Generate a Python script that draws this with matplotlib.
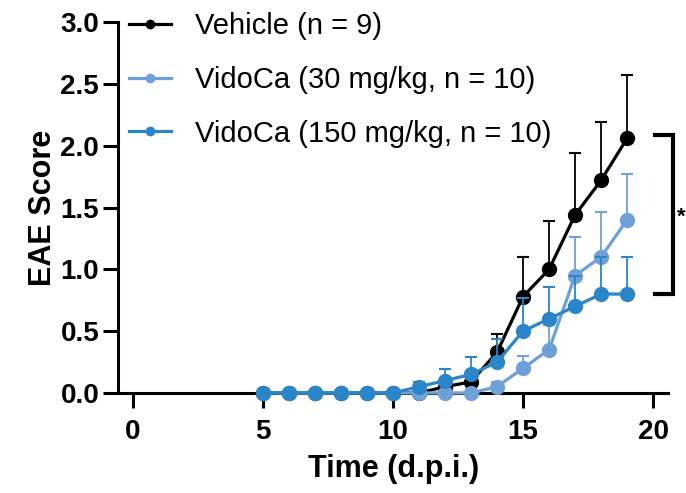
import numpy as np
import matplotlib
matplotlib.use("Agg")
import matplotlib.pyplot as plt

plt.rcParams['font.family'] = ['Liberation Sans', 'DejaVu Sans']

# days post immunisation
days = [5, 6, 7, 8, 9, 10, 11, 12, 13, 14, 15, 16, 17, 18, 19]

vehicle_mean = [0, 0, 0, 0, 0, 0, 0, 0.05, 0.09, 0.33, 0.78, 1.0, 1.44, 1.72, 2.06]
vehicle_err = [0, 0, 0, 0, 0, 0, 0, 0, 0, 0.15, 0.32, 0.39, 0.50, 0.47, 0.51]

vido30_mean = [0, 0, 0, 0, 0, 0, 0, 0, 0, 0.05, 0.2, 0.35, 0.95, 1.1, 1.4]
vido30_err = [0, 0, 0, 0, 0, 0, 0, 0, 0, 0.04, 0.1, 0.2, 0.31, 0.36, 0.37]

vido150_mean = [0, 0, 0, 0, 0, 0, 0.05, 0.1, 0.15, 0.25, 0.5, 0.6, 0.7, 0.8, 0.8]
vido150_err = [0, 0, 0, 0, 0, 0, 0.04, 0.09, 0.14, 0.19, 0.27, 0.26, 0.25, 0.3, 0.3]

labels = ['Vehicle (n = 9)', 'VidoCa (30 mg/kg, n = 10)', 'VidoCa (150 mg/kg, n = 10)']
colors = ['black', '#6fa0d8', '#2a86c9']

# significance bracket between vehicle and 150 mg/kg at the last day
bracket_y = [0.8, 2.09]
bracket_text = '*'

fig = plt.figure(figsize=(6.86, 4.93), dpi=100)
ax = fig.add_axes([0.172, 0.203, 0.802, 0.752])

series = [(vehicle_mean, vehicle_err), (vido30_mean, vido30_err), (vido150_mean, vido150_err)]
handles = []
for i, (mean, err) in enumerate(series):
    mean = np.array(mean)
    err = np.array(err)
    cont = ax.errorbar(days, mean, yerr=[np.zeros_like(err), err], color=colors[i],
                       ecolor=colors[i], elinewidth=1.3, capsize=4, capthick=1.5,
                       lw=2.3, marker='o', ms=10, mec=colors[i], label=labels[i],
                       zorder=3 + i, clip_on=False)
    handles.append(cont.lines[0])

ax.set_xlim(-0.58, 20.58)
ax.set_ylim(0, 3.0)
ax.set_xticks([0, 5, 10, 15, 20])
ax.set_yticks([0, 0.5, 1.0, 1.5, 2.0, 2.5, 3.0])
ax.set_yticklabels(['0.0', '0.5', '1.0', '1.5', '2.0', '2.5', '3.0'])

for s in ['top', 'right']:
    ax.spines[s].set_visible(False)
for s in ['left', 'bottom']:
    ax.spines[s].set_linewidth(2.2)

ax.tick_params(axis='both', length=10.5, width=2.2, labelsize=20)
ax.tick_params(axis='y', pad=3)
ax.tick_params(axis='x', pad=8)
for t in ax.get_xticklabels() + ax.get_yticklabels():
    t.set_fontweight('bold')

ax.set_xlabel('Time (d.p.i.)', fontsize=22, fontweight='bold', labelpad=7)
ax.set_ylabel('EAE Score', fontsize=22, fontweight='bold', labelpad=2)

# bracket
bx0, bx1 = 20.08, 20.77
ax.plot([bx0, bx1, bx1, bx0], [bracket_y[1], bracket_y[1], bracket_y[0], bracket_y[0]],
        color='black', lw=3, clip_on=False, solid_joinstyle='miter')
ax.text(20.92, np.mean(bracket_y) - 0.02, bracket_text, fontsize=16, fontweight='bold',
        ha='left', va='center')

leg = ax.legend(handles, labels, loc='upper left', bbox_to_anchor=(0.02, 1.027),
                frameon=False, fontsize=21, markerscale=0.6, handlelength=1.45,
                handletextpad=0.8, labelspacing=0.88, borderpad=0, borderaxespad=0)

fig.savefig('out.png', dpi=100)
